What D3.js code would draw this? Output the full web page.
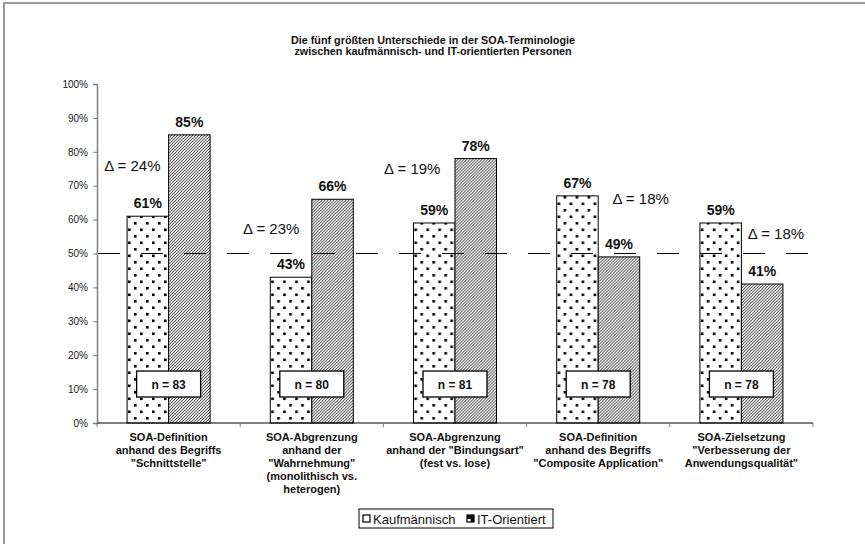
<!DOCTYPE html>
<html>
<head>
<meta charset="utf-8">
<script src="https://cdn.jsdelivr.net/npm/d3@7"></script>
<style>
  html, body { margin: 0; padding: 0; background: #fff; }
  svg { display: block; font-family: Arial, "Liberation Sans", sans-serif; }
</style>
</head>
<body>
<svg id="chart" width="865" height="544"></svg>
<script>
// Survey results: share of respondents per group, five SOA terminology items
const categories = [
  ["SOA-Definition", "anhand des Begriffs", "\"Schnittstelle\""],
  ["SOA-Abgrenzung", "anhand der", "\"Wahrnehmung\"", "(monolithisch vs.", "heterogen)"],
  ["SOA-Abgrenzung", "anhand der \"Bindungsart\"", "(fest vs. lose)"],
  ["SOA-Definition", "anhand des Begriffs", "\"Composite Application\""],
  ["SOA-Zielsetzung", "\"Verbesserung der", "Anwendungsqualität\""]
];
const kaufmaennisch = [0.61, 0.43, 0.59, 0.67, 0.59];
const itOrientiert  = [0.85, 0.66, 0.78, 0.49, 0.41];
const sampleSizes   = [83, 80, 81, 78, 78];
const seriesNames   = ["Kaufmännisch", "IT-Orientiert"];
const yTicks        = [0, 0.1, 0.2, 0.3, 0.4, 0.5, 0.6, 0.7, 0.8, 0.9, 1.0];
const threshold     = 0.5;
const titleLines    = [
  "Die fünf größten Unterschiede in der SOA-Terminologie",
  "zwischen kaufmännisch- und IT-orientierten Personen"
];

// Where each difference annotation sits: fraction across the category band, value level
const deltaAnchorBand  = [0.05, 0.02, 0.005, 0.6, 0.545];
const deltaAnchorLevel = [0.758, 0.572, 0.749, 0.661, 0.558];
const nBoxLevel = 0.115;

const svg = d3.select("#chart");
const plot = { left: 97, right: 813, top: 84, bottom: 423 };

// Outer chart frame
svg.append("rect")
  .attr("x", 4).attr("y", 3).attr("width", 900).attr("height", 600)
  .attr("fill", "#fff").attr("stroke", "#9a9a9a").attr("stroke-width", 2);

// Fill patterns
const defs = svg.append("defs");
const dots = defs.append("pattern")
  .attr("id", "dots").attr("patternUnits", "userSpaceOnUse")
  .attr("width", 12).attr("height", 13);
dots.append("rect").attr("width", 12).attr("height", 13).attr("fill", "#fff");
dots.append("rect").attr("x", 1).attr("y", 1).attr("width", 2.6).attr("height", 2.6).attr("fill", "#000");
dots.append("rect").attr("x", 7).attr("y", 7.5).attr("width", 2.6).attr("height", 2.6).attr("fill", "#000");

// Fine diagonal hatch, one-pixel steps
const hatch = defs.append("pattern")
  .attr("id", "hatch").attr("patternUnits", "userSpaceOnUse")
  .attr("width", 3).attr("height", 3);
hatch.append("rect").attr("width", 3).attr("height", 3).attr("fill", "#e2e2e2");
[0, 1, 2].forEach(k => {
  hatch.append("rect").attr("x", k).attr("y", 2 - k).attr("width", 1).attr("height", 1).attr("fill", "#555");
});

const fills = ["url(#dots)", "url(#hatch)"];

// Scales
const x = d3.scaleBand().domain(d3.range(categories.length))
  .range([plot.left, plot.right]).paddingInner(0).paddingOuter(0);
const xs = d3.scaleBand().domain([0, 1]).range([0, x.bandwidth()])
  .paddingInner(0).paddingOuter(0.725);
const y = d3.scaleLinear().domain([0, 1]).range([plot.bottom, plot.top]);

// Title
svg.append("g").selectAll("text").data(titleLines).join("text")
  .attr("x", 433).attr("y", (d, i) => 44 + i * 11)
  .attr("text-anchor", "middle")
  .attr("font-size", 10.8).attr("font-weight", "bold").attr("fill", "#111")
  .text(d => d);

// Y axis
const yAxis = svg.append("g")
  .attr("transform", `translate(${plot.left},0)`)
  .call(d3.axisLeft(y).tickValues(yTicks).tickFormat(d3.format(".0%")).tickSize(4).tickPadding(5));
yAxis.select(".domain").attr("stroke", "#808080").attr("stroke-width", 1.5);
yAxis.selectAll(".tick line").attr("stroke", "#808080");
yAxis.selectAll(".tick text").attr("font-size", 10).attr("fill", "#222")
  .attr("font-family", "Arial, 'Liberation Sans', sans-serif");

// Bars
const groups = svg.append("g").selectAll("g").data(categories).join("g")
  .attr("transform", (d, i) => `translate(${x(i)},0)`);

const values = categories.map((c, i) => [kaufmaennisch[i], itOrientiert[i]]);

groups.selectAll("rect.bar").data((d, i) => values[i]).join("rect")
  .attr("class", "bar")
  .attr("x", (d, j) => xs(j))
  .attr("y", d => y(d))
  .attr("width", xs.bandwidth())
  .attr("height", d => y(0) - y(d))
  .attr("fill", (d, j) => fills[j])
  .attr("stroke", "#000").attr("stroke-width", 1);

// Value labels
groups.selectAll("text.val").data((d, i) => values[i]).join("text")
  .attr("class", "val")
  .attr("x", (d, j) => xs(j) + xs.bandwidth() / 2)
  .attr("y", d => y(d) - 8)
  .attr("text-anchor", "middle")
  .attr("font-size", 14).attr("font-weight", "bold").attr("fill", "#111")
  .text(d => d3.format(".0%")(d));

// X axis
const xAxis = svg.append("g").attr("transform", `translate(0,${plot.bottom})`);
xAxis.append("line").attr("x1", plot.left).attr("x2", plot.right)
  .attr("stroke", "#000").attr("stroke-width", 1.2);
xAxis.selectAll("line.tick").data(d3.range(categories.length + 1)).join("line")
  .attr("class", "tick")
  .attr("x1", i => i < categories.length ? x(i) : plot.right)
  .attr("x2", i => i < categories.length ? x(i) : plot.right)
  .attr("y1", 0).attr("y2", 4).attr("stroke", "#808080");

// 50 % reference line
svg.append("line")
  .attr("x1", plot.left + 1).attr("x2", plot.right - 5)
  .attr("y1", y(threshold)).attr("y2", y(threshold))
  .attr("stroke", "#000").attr("stroke-width", 1.1)
  .attr("stroke-dasharray", "22,21");

// Sample size boxes
groups.each(function (d, i) {
  const g = d3.select(this);
  const cx = x.bandwidth() / 2;
  const cy = y(nBoxLevel);
  g.append("rect")
    .attr("x", cx - 32).attr("y", cy - 13).attr("width", 64).attr("height", 26)
    .attr("fill", "#fff").attr("stroke", "#000").attr("stroke-width", 1.3);
  g.append("text")
    .attr("x", cx).attr("y", cy + 4.5)
    .attr("text-anchor", "middle")
    .attr("font-size", 12).attr("font-weight", "bold").attr("fill", "#111")
    .text(`n = ${sampleSizes[i]}`);
});

// Difference annotations
groups.append("text")
  .attr("x", (d, i) => deltaAnchorBand[i] * x.bandwidth())
  .attr("y", (d, i) => y(deltaAnchorLevel[i]) + 5)
  .attr("font-size", 15).attr("fill", "#111")
  .text((d, i) => `Δ = ${Math.round(Math.abs(itOrientiert[i] - kaufmaennisch[i]) * 100)}%`);

// Category labels
groups.append("text")
  .attr("text-anchor", "middle")
  .attr("font-size", 11).attr("font-weight", "bold").attr("fill", "#111")
  .selectAll("tspan").data(d => d).join("tspan")
  .attr("x", x.bandwidth() / 2)
  .attr("y", (d, k) => plot.bottom + 18 + k * 13)
  .text(d => d);

// Legend
const legend = svg.append("g");
legend.append("rect")
  .attr("x", 359).attr("y", 509).attr("width", 194).attr("height", 19)
  .attr("fill", "#fff").attr("stroke", "#000").attr("stroke-width", 1);
const legendX = [363, 467];
seriesNames.forEach((name, j) => {
  const lx = legendX[j];
  if (j === 0) {
    legend.append("rect").attr("x", lx).attr("y", 515).attr("width", 7).attr("height", 7)
      .attr("fill", "#fff").attr("stroke", "#000").attr("stroke-width", 1.2);
  } else {
    legend.append("rect").attr("x", lx).attr("y", 515).attr("width", 7).attr("height", 7)
      .attr("fill", "#111").attr("stroke", "#000").attr("stroke-width", 1.2);
    legend.append("rect").attr("x", lx + 0.6).attr("y", 519).attr("width", 3).attr("height", 2.4)
      .attr("fill", "#fff");
  }
  legend.append("text")
    .attr("x", lx + 10).attr("y", 523.5)
    .attr("font-size", 13).attr("fill", "#111")
    .text(name);
});
</script>
</body>
</html>
